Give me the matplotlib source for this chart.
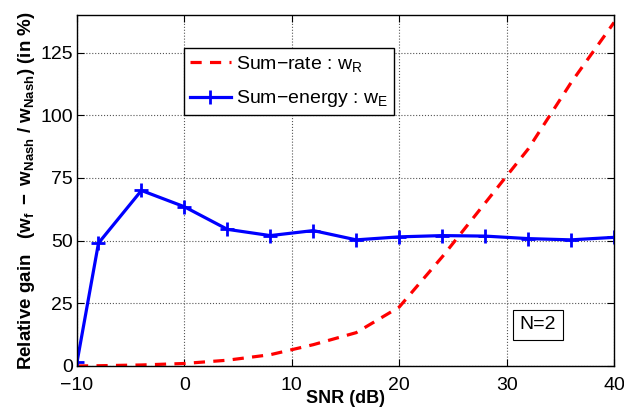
import matplotlib.pyplot as plt

plt.rcParams['font.family'] = ['Liberation Sans', 'DejaVu Sans']
plt.rcParams['mathtext.fontset'] = 'custom'
plt.rcParams['mathtext.rm'] = 'Liberation Sans'
plt.rcParams['mathtext.it'] = 'Liberation Sans'
plt.rcParams['mathtext.bf'] = 'Liberation Sans:bold'

# data
snr_db = [-10, -8, -4, 0, 4, 8, 12, 16, 20, 24, 28, 32, 36, 40]
gain_rate = [0.0, 0.1, 0.4, 1.0, 2.3, 4.5, 8.5, 13.3, 23.5, 43.5, 65.0, 86.5, 113.0, 137.0]
gain_energy = [1.5, 49.0, 70.0, 63.5, 54.5, 52.0, 54.0, 50.3, 51.5, 52.0, 51.8, 50.8, 50.3, 51.3]

x_ticks = [-10, 0, 10, 20, 30, 40]
y_ticks = [0, 25, 50, 75, 100, 125]

fig = plt.figure(figsize=(6.24, 4.12), dpi=100)
ax = fig.add_axes([0.1234, 0.1117, 0.8606, 0.852])

ax.plot(snr_db, gain_rate, '--', color='red', lw=2.3, dashes=(3.5, 2.6),
        label=r'Sum$-$rate : w$_\mathrm{R}$')
ax.plot(snr_db, gain_energy, '-', color='blue', lw=2.3, marker='+', ms=10, mew=2,
        label=r'Sum$-$energy : w$_\mathrm{E}$')

ax.set_xlim(-10, 40)
ax.set_ylim(0, 140)
ax.set_xticks(x_ticks)
ax.set_yticks(y_ticks)
ax.set_xticklabels(['\u221210', '0', '10', '20', '30', '40'])
ax.tick_params(direction='in', top=True, right=True, labelsize=14, length=5)
ax.tick_params(axis='x', pad=8)
ax.tick_params(axis='y', pad=3)
ax.grid(True, linestyle=':', color='#555555', lw=0.8)
for s in ax.spines.values():
    s.set_linewidth(1)

ax.set_xlabel('SNR (dB)', fontsize=13, fontweight='bold', labelpad=-3)
ax.set_ylabel(r'Relative gain   $\mathbf{(w_f\ -\ w_{Nash}\ /\ w_{Nash})}$ (in %)',
              fontsize=13.5, fontweight='bold', labelpad=2)

leg = ax.legend(loc='upper left', bbox_to_anchor=(0.199, 0.906), fontsize=14,
                fancybox=False, framealpha=1, edgecolor='black', handlelength=2.1,
                handletextpad=0.3, borderpad=0.3, labelspacing=0.75, borderaxespad=0)
leg.get_frame().set_linewidth(1)

ax.text(0.858, 0.117, 'N=2', transform=ax.transAxes, fontsize=14,
        ha='center', va='center',
        bbox=dict(boxstyle='square,pad=0.35', fc='white', ec='black', lw=0.8))

fig.savefig('out.png', dpi=100)
